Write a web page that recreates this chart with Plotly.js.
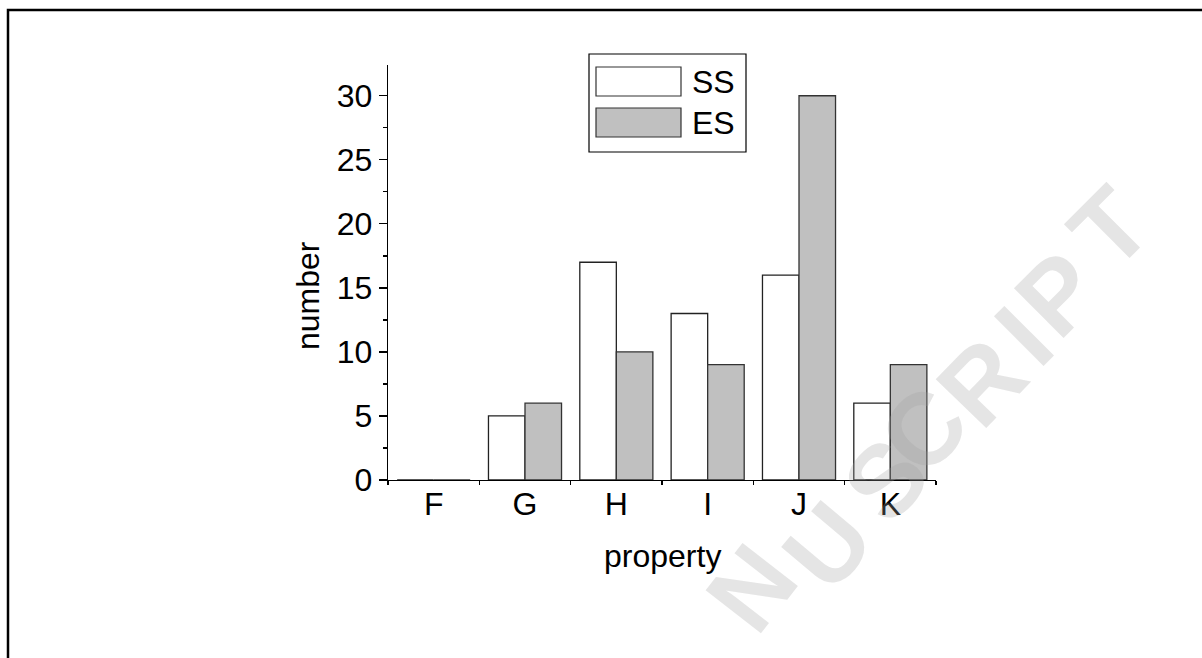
<!DOCTYPE html>
<html>
<head>
<meta charset="utf-8">
<script src="https://cdn.plot.ly/plotly-3.0.1.min.js"></script>
<style>
html, body { margin: 0; padding: 0; background: #fff; }
#chart { width: 1202px; height: 658px; }
</style>
</head>
<body>
<div id="chart"></div>
<script>
// ---- data ----
const categories = ["F", "G", "H", "I", "J", "K"];
const ssValues = [0, 5, 17, 13, 16, 6];
const esValues = [0, 6, 10, 9, 30, 9];
const seriesNames = ["SS", "ES"];
const yTickVals = [0, 5, 10, 15, 20, 25, 30];
const xTitle = "property";
const yTitle = "number";
const watermarkLetters = ["N", "U", "S", "C", "R", "I", "P", "T"];

// ---- geometry ----
const W = 1202, H = 658;
const M = { l: 388, r: 266, t: 65, b: 178 };
const PW = W - M.l - M.r, PH = H - M.t - M.b;
const px = x => (x - M.l) / PW;
const py = y => (H - M.b - y) / PH;

const FONT = "Liberation Sans, Arial, sans-serif";
const FS = 32;

const traces = [
  {
    type: "bar", name: seriesNames[0], x: categories, y: ssValues,
    marker: { color: "#ffffff", line: { color: "#222222", width: 1.3 } },
    showlegend: false, hoverinfo: "x+y"
  },
  {
    type: "bar", name: seriesNames[1], x: categories, y: esValues,
    marker: { color: "#c0c0c0", line: { color: "#333333", width: 1.3 } },
    showlegend: false, hoverinfo: "x+y"
  }
];

// category boundaries for the inner half of the crossing ticks
const boundaries = categories.map((c, i) => i - 0.5).concat([categories.length - 0.5]);

// watermark placement (pixel centres and angles)
const wmPos = [
  [752, 588, -52], [828, 546, -50], [886, 480, -48], [924, 430, -47],
  [982, 382, -46], [1024, 336, -45], [1058, 294, -45], [1110, 228, -45]
];

const annotations = [
  { text: xTitle, xref: "paper", yref: "paper", x: px(662), y: py(556),
    xanchor: "center", yanchor: "middle", showarrow: false,
    font: { family: FONT, size: FS, color: "#000" } },
  { text: yTitle, xref: "paper", yref: "paper", x: px(308), y: py(296),
    xanchor: "center", yanchor: "middle", showarrow: false, textangle: -90,
    font: { family: FONT, size: FS, color: "#000" } },
  { text: seriesNames[0], xref: "paper", yref: "paper", x: px(690), y: py(82),
    xanchor: "left", yanchor: "middle", showarrow: false,
    font: { family: FONT, size: FS, color: "#000" } },
  { text: seriesNames[1], xref: "paper", yref: "paper", x: px(690), y: py(123),
    xanchor: "left", yanchor: "middle", showarrow: false,
    font: { family: FONT, size: FS, color: "#000" } }
];
watermarkLetters.forEach((ch, i) => {
  const p = wmPos[i];
  annotations.push({
    text: "<b>" + ch + "</b>", xref: "paper", yref: "paper", x: px(p[0]), y: py(p[1]),
    xanchor: "center", yanchor: "middle", showarrow: false, textangle: p[2],
    font: { family: FONT, size: 102, color: "rgba(160,160,160,0.28)" }
  });
});

const shapes = [
  // page frame
  { type: "rect", xref: "paper", yref: "paper", x0: px(8), x1: px(1400), y0: py(10), y1: py(800),
    line: { color: "#000", width: 2.5 }, fillcolor: "rgba(0,0,0,0)", layer: "above" },
  // legend box
  { type: "rect", xref: "paper", yref: "paper", x0: px(589), x1: px(746), y0: py(54), y1: py(152),
    line: { color: "#000", width: 1.2 }, fillcolor: "#fff", layer: "above" },
  // legend swatches
  { type: "rect", xref: "paper", yref: "paper", x0: px(596), x1: px(681), y0: py(67), y1: py(96),
    line: { color: "#333", width: 1.2 }, fillcolor: "#ffffff", layer: "above" },
  { type: "rect", xref: "paper", yref: "paper", x0: px(596), x1: px(681), y0: py(108), y1: py(137),
    line: { color: "#333", width: 1.2 }, fillcolor: "#c0c0c0", layer: "above" }
];

const layout = {
  width: W, height: H,
  margin: M,
  paper_bgcolor: "#fff", plot_bgcolor: "#fff",
  showlegend: false,
  barmode: "group", bargap: 0.2, bargroupgap: 0,
  font: { family: FONT, size: FS, color: "#000" },
  xaxis: {
    type: "category", categoryarray: categories, categoryorder: "array",
    range: [-0.5, 5.5], showgrid: false, zeroline: false,
    showline: true, linecolor: "#000", linewidth: 1.3,
    ticks: "outside", tickson: "boundaries", ticklen: 4, tickwidth: 1.3, tickcolor: "#000",
    ticklabelstandoff: -5,
    tickfont: { family: FONT, size: FS, color: "#000" }, fixedrange: true
  },
  xaxis2: {
    type: "linear", overlaying: "x", anchor: "y", side: "bottom",
    range: [-0.5, 5.5], showgrid: false, zeroline: false, showline: false,
    tickmode: "array", tickvals: boundaries,
    ticks: "inside", ticklen: 4, tickwidth: 1.3, tickcolor: "#000",
    showticklabels: false, fixedrange: true
  },
  yaxis: {
    range: [0, 32.4], tickvals: yTickVals, showgrid: false, zeroline: false,
    showline: true, linecolor: "#000", linewidth: 1.3,
    ticks: "outside", ticklen: 8, tickwidth: 1.3, tickcolor: "#000",
    minor: { dtick: 2.5, tick0: 0, ticks: "outside", ticklen: 4, tickwidth: 1.3, tickcolor: "#000", showgrid: false },
    tickfont: { family: FONT, size: FS, color: "#000" }, fixedrange: true
  },
  annotations: annotations,
  shapes: shapes
};

Plotly.newPlot("chart", traces, layout, { displayModeBar: false, staticPlot: true });
</script>
</body>
</html>
